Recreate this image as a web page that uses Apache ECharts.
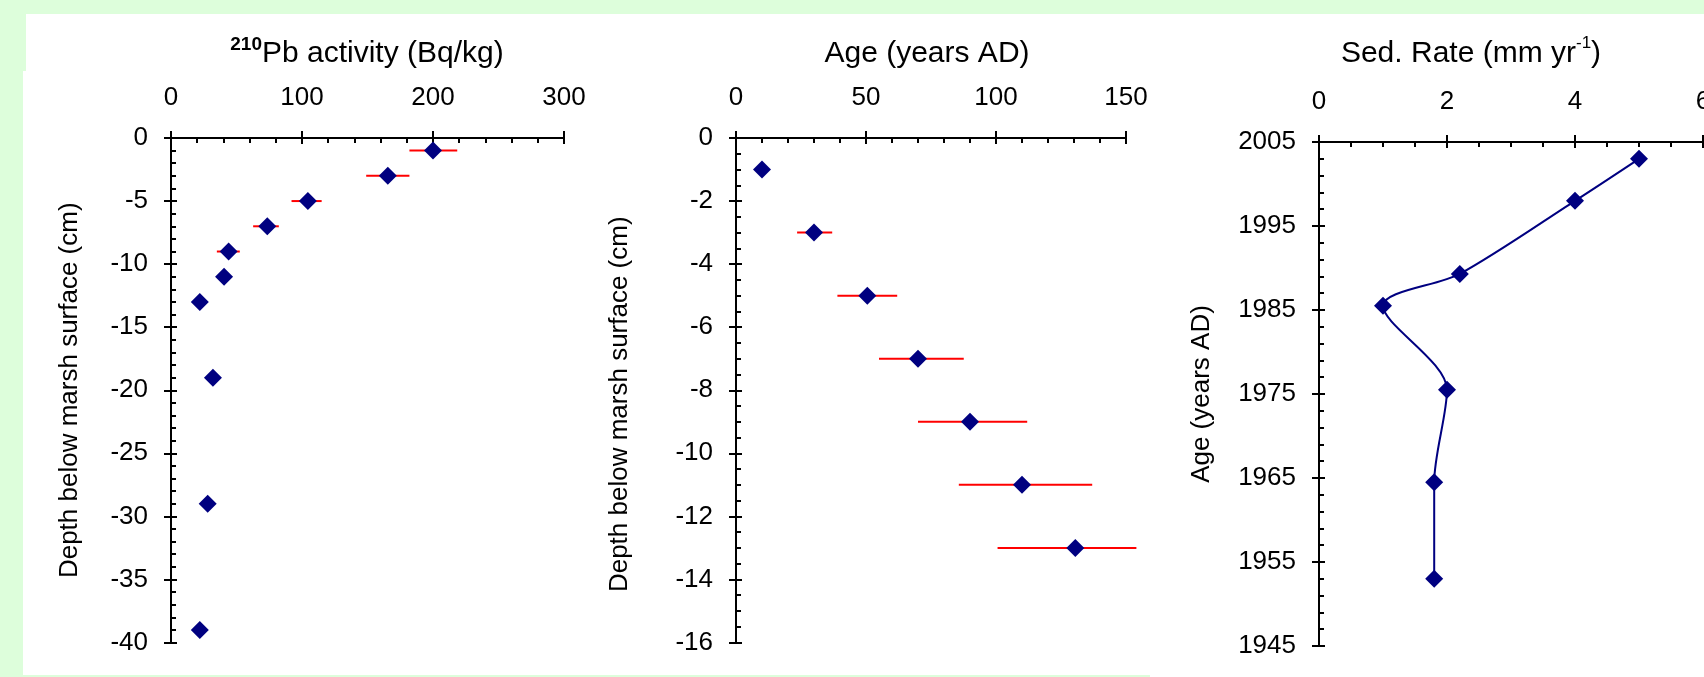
<!DOCTYPE html>
<html>
<head>
<meta charset="utf-8">
<script src="https://cdn.jsdelivr.net/npm/echarts@6/dist/echarts.min.js"></script>
<style>
html, body { margin: 0; padding: 0; background: #ddfedb; }
#main { width: 1704px; height: 677px; }
</style>
</head>
<body>
<div id="main"></div>
<script>
// 210Pb activity vs depth
const pbDepth = [-1, -3, -5, -7, -9, -11, -13, -19, -29, -39];
const pbActivity = [200, 165.5, 104.5, 73.5, 44, 40.5, 22, 32, 28, 22];
const pbLow = [182, 149, 92, 62.7, 35, null, null, null, null, null];
const pbHigh = [218.5, 182, 115, 82.3, 52.5, null, null, null, null, null];

// age vs depth
const ageDepth = [-1, -3, -5, -7, -9, -11, -13];
const age = [10, 30, 50.5, 70, 90, 110, 130.5];
const ageLow = [null, 23.5, 39, 55, 70, 85.7, 100.6];
const ageHigh = [null, 37, 62, 87.6, 112, 137, 154];

// sedimentation rate vs age
const sedYear = [2003, 1998, 1989.3, 1985.5, 1975.5, 1964.5, 1953];
const sedRate = [5.0, 4.0, 2.2, 1.0, 2.0, 1.8, 1.8];

const font = 'Liberation Sans, Arial, sans-serif';
const ink = '#000';
const navy = '#000080';

function mainAxis(dim, grid, min, max, interval, minorSplit, extra) {
  return Object.assign({
    type: 'value', gridIndex: grid, min: min, max: max, interval: interval,
    position: dim === 'x' ? 'top' : 'left',
    axisLine: { show: true, onZero: false, lineStyle: { color: ink, width: 2 } },
    axisTick: { show: true, inside: true, length: 6, lineStyle: { color: ink, width: 2 } },
    minorTick: { show: true, splitNumber: minorSplit, length: 5, lineStyle: { color: ink, width: 2 } },
    axisLabel: {
      color: ink, fontSize: 26, fontFamily: font,
      margin: dim === 'x' ? 27 : 23,
      formatter: function (v) { return String(v); }
    },
    splitLine: { show: false },
    minorSplitLine: { show: false }
  }, extra || {});
}

// second copy of the axis, only for the outer half of the crossing major ticks
function crossAxis(dim, grid, min, max, interval) {
  return {
    type: 'value', gridIndex: grid, min: min, max: max, interval: interval,
    position: dim === 'x' ? 'top' : 'left',
    axisLine: { show: false, onZero: false },
    axisTick: { show: true, inside: false, length: 7, lineStyle: { color: ink, width: 2 } },
    axisLabel: { show: false },
    splitLine: { show: false }
  };
}

function yName(text, gap, extraStyle) {
  return {
    name: text, nameLocation: 'middle', nameGap: gap,
    nameTextStyle: Object.assign({ color: ink, fontSize: 26, fontFamily: font }, extraStyle || {})
  };
}

function errorBars(axisIndex, ys, lo, hi) {
  const data = [];
  ys.forEach(function (y, i) {
    if (lo[i] != null) data.push([lo[i], hi[i], y]);
  });
  return {
    type: 'custom', xAxisIndex: axisIndex, yAxisIndex: axisIndex, z: 2,
    encode: { x: [0, 1], y: 2 },
    data: data,
    renderItem: function (params, api) {
      const a = api.coord([api.value(0), api.value(2)]);
      const b = api.coord([api.value(1), api.value(2)]);
      return {
        type: 'line',
        shape: { x1: a[0], y1: a[1], x2: b[0], y2: b[1] },
        style: { stroke: '#ff0000', lineWidth: 2 }
      };
    }
  };
}

const titleRich = {
  t: { fontSize: 30, fontWeight: 'normal', fontFamily: font, color: ink, lineHeight: 34, verticalAlign: 'bottom' },
  sup: { fontSize: 19, fontWeight: 'bold', fontFamily: font, color: ink, lineHeight: 19, verticalAlign: 'top' },
  sup2: { fontSize: 17, fontWeight: 'normal', fontFamily: font, color: ink, lineHeight: 17, verticalAlign: 'top' }
};

function title(text, x) {
  return {
    text: text, left: x, top: 35, textAlign: 'center', padding: 0,
    textStyle: { fontWeight: 'normal', rich: titleRich }
  };
}

const chart = echarts.init(document.getElementById('main'));
chart.setOption({
  backgroundColor: '#ddfedb',
  animation: false,
  graphic: [
    { type: 'rect', z: -10, silent: true, shape: { x: 26, y: 14, width: 1678, height: 57 }, style: { fill: '#fff' } },
    { type: 'rect', z: -10, silent: true, shape: { x: 23, y: 71, width: 1681, height: 604 }, style: { fill: '#fff' } },
    { type: 'rect', z: -10, silent: true, shape: { x: 1150, y: 675, width: 554, height: 2 }, style: { fill: '#fff' } }
  ],
  title: [
    title('{sup|210}{t|Pb activity (Bq/kg)}', 367),
    title('{t|Age (years AD)}', 927),
    title('{t|Sed. Rate (mm yr}{sup2|-1}{t|)}', 1471)
  ],
  grid: [
    { left: 171, top: 138, width: 393, height: 504.5, outerBoundsMode: 'none' },
    { left: 736, top: 138, width: 390, height: 504.5, outerBoundsMode: 'none' },
    { left: 1319, top: 142, width: 384, height: 504, outerBoundsMode: 'none' }
  ],
  xAxis: [
    mainAxis('x', 0, 0, 300, 100, 5),
    crossAxis('x', 0, 0, 300, 100),
    mainAxis('x', 1, 0, 150, 50, 5),
    crossAxis('x', 1, 0, 150, 50),
    mainAxis('x', 2, 0, 6, 2, 4),
    crossAxis('x', 2, 0, 6, 2)
  ],
  yAxis: [
    mainAxis('y', 0, -40, 0, 5, 5, yName('Depth below marsh surface (cm)', 88)),
    crossAxis('y', 0, -40, 0, 5),
    mainAxis('y', 1, -16, 0, 2, 4, yName('Depth below marsh surface (cm)', 103, { padding: [0, 28, 0, 0] })),
    crossAxis('y', 1, -16, 0, 2),
    mainAxis('y', 2, 1945, 2005, 10, 5, yName('Age (years AD)', 104)),
    crossAxis('y', 2, 1945, 2005, 10)
  ],
  series: [
    errorBars(0, pbDepth, pbLow, pbHigh),
    {
      type: 'scatter', xAxisIndex: 0, yAxisIndex: 0, z: 3,
      symbol: 'diamond', symbolSize: 18,
      itemStyle: { color: navy, opacity: 1 },
      data: pbActivity.map(function (v, i) { return [v, pbDepth[i]]; })
    },
    errorBars(2, ageDepth, ageLow, ageHigh),
    {
      type: 'scatter', xAxisIndex: 2, yAxisIndex: 2, z: 3,
      symbol: 'diamond', symbolSize: 18,
      itemStyle: { color: navy, opacity: 1 },
      data: age.map(function (v, i) { return [v, ageDepth[i]]; })
    },
    {
      type: 'line', xAxisIndex: 4, yAxisIndex: 4, z: 3,
      smooth: 0.3, clip: false,
      symbol: 'diamond', symbolSize: 18, showSymbol: true,
      lineStyle: { color: navy, width: 2 },
      itemStyle: { color: navy, opacity: 1 },
      data: sedRate.map(function (v, i) { return [v, sedYear[i]]; })
    }
  ]
});
</script>
</body>
</html>
